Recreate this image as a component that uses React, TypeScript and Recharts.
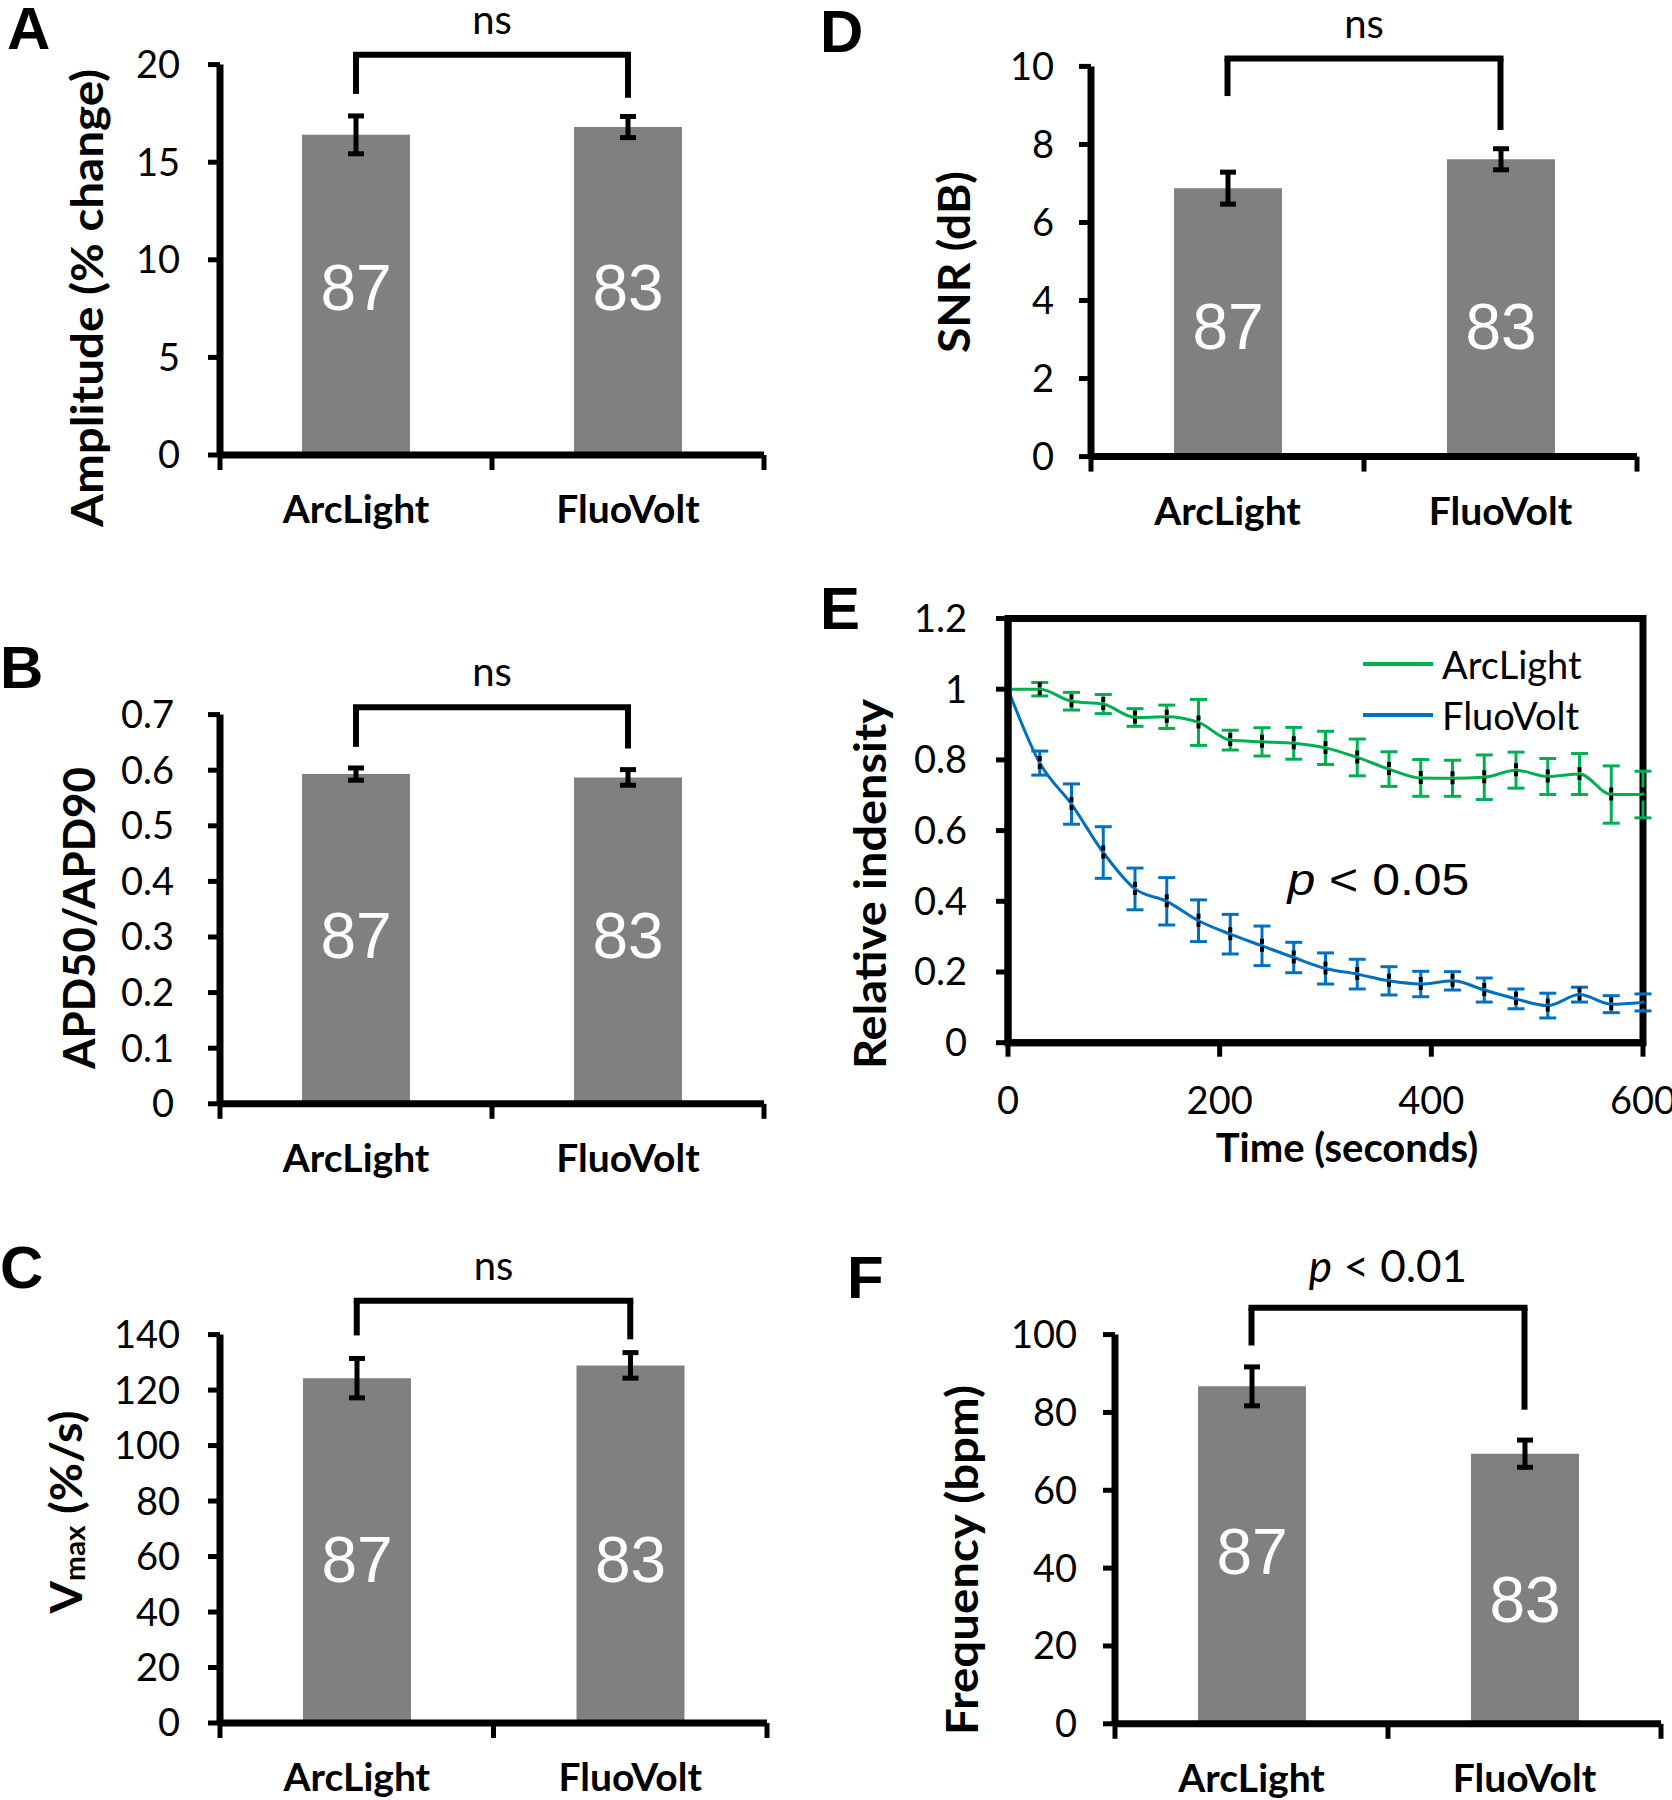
import React from "react";
import {
  Bar,
  BarChart,
  ErrorBar,
  LabelList,
  Legend,
  Line,
  LineChart,
  ReferenceArea,
  ReferenceDot,
  ReferenceLine,
  XAxis,
  YAxis,
} from "recharts";

const FONT = "Lato, 'Open Sans', sans-serif";
const ARIAL = "'Liberation Sans', Arial, sans-serif";
const GREEN = "#00B050";
const BLUE = "#0070C0";

const groups = ["ArcLight", "FluoVolt"];
const cellCounts = [87, 83];

// A - amplitude
const amplitudeMean = [16.4, 16.8];
const amplitudeSem = [0.97, 0.54];
const amplitudeBracket = [20.5, 18.5, 18.3];
const amplitudeCountAt = [8.6, 8.6];
const amplitudeTicks = [0, 5, 10, 15, 20];

// B - APD50/APD90
const apdMean = [0.593, 0.587];
const apdSem = [0.011, 0.014];
const apdBracket = [0.713, 0.642, 0.639];
const apdCountAt = [0.303, 0.303];
const apdTicks = [0, 0.1, 0.2, 0.3, 0.4, 0.5, 0.6, 0.7];

// C - Vmax
const vmaxMean = [124.3, 128.9];
const vmaxSem = [7.1, 4.6];
const vmaxBracket = [152.2, 139.7, 138.3];
const vmaxCountAt = [59.3, 59.3];
const vmaxTicks = [0, 20, 40, 60, 80, 100, 120, 140];

// D - SNR
const snrMean = [6.88, 7.62];
const snrSem = [0.41, 0.27];
const snrBracket = [10.2, 9.24, 8.37];
const snrCountAt = [3.35, 3.35];
const snrTicks = [0, 2, 4, 6, 8, 10];

// F - beating frequency
const freqMean = [86.7, 69.4];
const freqSem = [5.0, 3.5];
const freqBracket = [106.9, 97.2, 80.7];
const freqCountAt = [44.4, 32.1];
const freqTicks = [0, 20, 40, 60, 80, 100];

// E - relative intensity over time
const timeSec = [0, 30, 60, 90, 120, 150, 180, 210, 240, 270, 300, 330, 360, 390, 420, 450, 480, 510, 540, 570, 600];
const arcMean = [1.0, 1.0, 0.966, 0.958, 0.92, 0.922, 0.906, 0.856, 0.851, 0.847, 0.834, 0.807, 0.774, 0.749, 0.748, 0.751, 0.771, 0.753, 0.76, 0.702, 0.702];
const arcSem = [0, 0.019, 0.025, 0.027, 0.025, 0.033, 0.065, 0.028, 0.04, 0.045, 0.047, 0.052, 0.049, 0.052, 0.051, 0.063, 0.051, 0.051, 0.058, 0.081, 0.066];
const fluoMean = [1.0, 0.791, 0.675, 0.538, 0.435, 0.4, 0.345, 0.307, 0.274, 0.241, 0.21, 0.194, 0.175, 0.166, 0.175, 0.149, 0.124, 0.105, 0.136, 0.109, 0.114];
const fluoSem = [0, 0.034, 0.057, 0.073, 0.059, 0.067, 0.059, 0.056, 0.056, 0.043, 0.044, 0.042, 0.04, 0.036, 0.026, 0.034, 0.028, 0.035, 0.021, 0.024, 0.024];
const timeTicks = [0, 200, 400, 600];
const intensityTicks = [0, 0.2, 0.4, 0.6, 0.8, 1, 1.2];

const panelLetters = [
  { t: "A", x: 7, y: -1 },
  { t: "B", x: 0, y: 638 },
  { t: "C", x: 0, y: 1238 },
  { t: "D", x: 820, y: 2 },
  { t: "E", x: 820, y: 579 },
  { t: "F", x: 847, y: 1248 },
];

const fmt = (v: number) => String(Number(v.toFixed(1)));

const vTitle = (x: number, y: number, len: number, body: React.ReactNode) => () => (
  <text
    transform={`translate(${x},${y}) rotate(-90)`}
    textAnchor="middle"
    dominantBaseline="central"
    fontFamily={FONT}
    fontWeight={700}
    fontSize={44}
    fill="#000"
    textLength={len}
    lengthAdjust="spacingAndGlyphs"
  >
    {body}
  </text>
);

const pNote = (rest: string, size: number, font: string, gap: number, len?: number) => (props: any) => {
  const vb = props.viewBox || { x: 0, y: 0, width: 0 };
  return (
    <text
      x={vb.x + (vb.width || 0) / 2}
      y={vb.y - gap}
      textAnchor="middle"
      fontSize={size}
      fontFamily={font}
      fill="#000"
      textLength={len}
      lengthAdjust={len ? "spacingAndGlyphs" : undefined}
    >
      <tspan fontStyle="italic">p</tspan> &lt; {rest}
    </text>
  );
};

const renderGroupTick = (props: any) => {
  const { x, y, payload } = props;
  const v = payload.value;
  if (Number.isInteger(v)) {
    return <line x1={x} y1={y} x2={x} y2={y + 15} stroke="#000" strokeWidth={5} />;
  }
  return (
    <text x={x} y={y + 53} textAnchor="middle" dominantBaseline="central" fontFamily={FONT} fontWeight={700} fontSize={39} fill="#000">
      {groups[Math.floor(v)]}
    </text>
  );
};

// white cell-count labels, placed at a chosen height inside each bar
const countLabel = (mean: number[], at: number[]) => (props: any) => {
  const { x, y, width, height, index, value } = props;
  const bottom = y + height;
  const cy = bottom - (at[index] * height) / mean[index];
  return (
    <text x={x + width / 2} y={cy} dy="0.36em" textAnchor="middle" fill="#fff" fontSize={64} fontFamily={ARIAL}>
      {value}
    </text>
  );
};

function BarPanel(props: any) {
  const { frame, plot, mean, sem, countAt, ticks, bracket, note, title, tickGap } = props;
  const [L, T, W, H] = frame;
  const [px, py, pw, ph] = plot;
  const axisH = 76;
  const data = groups.map((name, i) => ({ pos: i + 0.5, name, mean: mean[i], sem: sem[i], n: cellCounts[i] }));
  const margin = { top: py - T, left: 0, right: L + W - px - pw, bottom: Math.max(0, T + H - py - ph - axisH) };
  const [top, legL, legR] = bracket;
  return (
    <div style={{ position: "absolute", left: L, top: T }}>
      <BarChart width={W} height={H} data={data} margin={margin}>
        <XAxis
          dataKey="pos"
          type="number"
          domain={[0, 2]}
          ticks={[0, 0.5, 1, 1.5, 2]}
          interval={0}
          height={axisH}
          tickSize={0}
          tickMargin={0}
          tickLine={false}
          axisLine={{ stroke: "#000", strokeWidth: 7 }}
          tick={renderGroupTick}
        />
        <YAxis
          type="number"
          domain={[0, ticks[ticks.length - 1]]}
          ticks={ticks}
          interval={0}
          width={px - L}
          tickSize={12}
          tickMargin={tickGap}
          tickLine={{ stroke: "#000", strokeWidth: 5 }}
          axisLine={{ stroke: "#000", strokeWidth: 7 }}
          tick={{ fill: "#000", fontSize: 38, fontFamily: FONT }}
          tickFormatter={fmt}
          label={{ content: vTitle(title.x - L, title.y - T, title.len, title.body) }}
        />
        <Bar dataKey="mean" fill="#808080" barSize={108} isAnimationActive={false}>
          <ErrorBar dataKey="sem" width={8} strokeWidth={5} stroke="#000" direction="y" />
          <LabelList dataKey="n" content={countLabel(mean, countAt)} />
        </Bar>
        <ReferenceLine
          segment={[{ x: 0.5, y: top }, { x: 1.5, y: top }]}
          stroke="#000"
          strokeWidth={6}
          strokeLinecap="square"
          ifOverflow="visible"
          label={note}
        />
        <ReferenceLine segment={[{ x: 0.5, y: top }, { x: 0.5, y: legL }]} stroke="#000" strokeWidth={6} ifOverflow="visible" />
        <ReferenceLine segment={[{ x: 1.5, y: top }, { x: 1.5, y: legR }]} stroke="#000" strokeWidth={6} ifOverflow="visible" />
      </BarChart>
    </div>
  );
}

const nsNote = { value: "ns", position: "top", offset: 21, fill: "#000", fontSize: 40, fontFamily: FONT };

const renderBleachDot = (props: any) => {
  const { cx, cy, index } = props;
  if (index === 0) return <g key={`d${index}`} />;
  return (
    <line key={`d${index}`} x1={cx} y1={cy - 7} x2={cx} y2={cy + 7} stroke="#000" strokeWidth={4} strokeDasharray="5 3" />
  );
};

const renderLegend = (props: any) => (
  <div>
    {(props.payload || []).map((e: any) => (
      <div key={e.value} style={{ display: "flex", alignItems: "center", height: 51 }}>
        <div style={{ width: 70, borderTop: `4px solid ${e.color}` }} />
        <span style={{ marginLeft: 9, fontFamily: FONT, fontSize: 38, color: "#000", lineHeight: 1 }}>{e.value}</span>
      </div>
    ))}
  </div>
);

function BleachPanel() {
  const L = 836;
  const T = 580;
  const W = 836;
  const H = 620;
  const data = timeSec.map((t, i) => ({ t, arc: arcMean[i], arcErr: arcSem[i], fluo: fluoMean[i], fluoErr: fluoSem[i] }));
  const margin = { top: 618.5 - T, left: 0, right: L + W - 1643, bottom: T + H - 1042.7 - 130 };
  return (
    <div style={{ position: "absolute", left: L, top: T }}>
      <LineChart width={W} height={H} data={data} margin={margin}>
        <XAxis
          dataKey="t"
          type="number"
          domain={[0, 600]}
          ticks={timeTicks}
          interval={0}
          height={130}
          tickSize={14}
          tickMargin={30}
          tickLine={{ stroke: "#000", strokeWidth: 5 }}
          axisLine={{ stroke: "#000", strokeWidth: 7 }}
          tick={{ fill: "#000", fontSize: 38, fontFamily: FONT }}
          label={{
            content: () => (
              <text x={1347 - L} y={1147 - T} textAnchor="middle" dominantBaseline="central" fontFamily={FONT} fontWeight={700} fontSize={40} fill="#000">
                Time (seconds)
              </text>
            ),
          }}
        />
        <YAxis
          type="number"
          domain={[0, 1.2]}
          ticks={intensityTicks}
          interval={0}
          width={1008 - L}
          tickSize={12}
          tickMargin={29}
          tickLine={{ stroke: "#000", strokeWidth: 5 }}
          axisLine={{ stroke: "#000", strokeWidth: 7 }}
          tick={{ fill: "#000", fontSize: 38, fontFamily: FONT }}
          tickFormatter={fmt}
          label={{ content: vTitle(869 - L, 884 - T, 370, "Relative indensity") }}
        />
        <ReferenceArea x1={0} x2={600} y1={0} y2={1.2} fill="none" stroke="#000" strokeWidth={7} ifOverflow="visible" />
        <Legend
          layout="vertical"
          align="center"
          verticalAlign="middle"
          wrapperStyle={{ left: 527, top: 58, width: 260 }}
          content={renderLegend}
        />
        <Line dataKey="arc" name="ArcLight" type="monotone" stroke={GREEN} strokeWidth={3} dot={renderBleachDot} activeDot={false} isAnimationActive={false}>
          <ErrorBar dataKey="arcErr" width={8.5} strokeWidth={3} stroke={GREEN} direction="y" />
        </Line>
        <Line dataKey="fluo" name="FluoVolt" type="monotone" stroke={BLUE} strokeWidth={3} dot={renderBleachDot} activeDot={false} isAnimationActive={false}>
          <ErrorBar dataKey="fluoErr" width={8.5} strokeWidth={3} stroke={BLUE} direction="y" />
        </Line>
        <ReferenceDot x={350} y={0.418} r={0} fill="none" stroke="none" ifOverflow="visible" label={{ content: pNote("0.05", 44, ARIAL, 0, 182) }} />
      </LineChart>
    </div>
  );
}

export default function App() {
  return (
    <div style={{ position: "absolute", left: 0, top: 0, width: 1672, height: 1800, background: "#fff", overflow: "hidden" }}>
      <BarPanel
        frame={[0, 0, 836, 560]}
        plot={[220, 64.6, 544, 390.4]}
        mean={amplitudeMean}
        sem={amplitudeSem}
        countAt={amplitudeCountAt}
        ticks={amplitudeTicks}
        bracket={amplitudeBracket}
        note={nsNote}
        tickGap={28}
        title={{ x: 86, y: 298, len: 458, body: "Amplitude (% change)" }}
      />
      <BarPanel
        frame={[0, 600, 836, 600]}
        plot={[220, 714.6, 544, 389.2]}
        mean={apdMean}
        sem={apdSem}
        countAt={apdCountAt}
        ticks={apdTicks}
        bracket={apdBracket}
        note={nsNote}
        tickGap={34}
        title={{ x: 78, y: 918, len: 302, body: "APD50/APD90" }}
      />
      <BarPanel
        frame={[0, 1200, 836, 600]}
        plot={[220, 1334.6, 547, 388.4]}
        mean={vmaxMean}
        sem={vmaxSem}
        countAt={vmaxCountAt}
        ticks={vmaxTicks}
        bracket={vmaxBracket}
        note={nsNote}
        tickGap={28}
        title={{
          x: 65,
          y: 1512,
          len: 203,
          body: (
            <>
              <tspan>V</tspan>
              <tspan dy={9} fontSize={28}>max</tspan>
              <tspan dy={-9}> (%/s)</tspan>
            </>
          ),
        }}
      />
      <BarPanel
        frame={[836, 0, 836, 560]}
        plot={[1091, 66.4, 546, 390.2]}
        mean={snrMean}
        sem={snrSem}
        countAt={snrCountAt}
        ticks={snrTicks}
        bracket={snrBracket}
        note={nsNote}
        tickGap={25}
        title={{ x: 953, y: 262, len: 182, body: "SNR (dB)" }}
      />
      <BleachPanel />
      <BarPanel
        frame={[836, 1200, 836, 600]}
        plot={[1115, 1334.6, 546, 389.2]}
        mean={freqMean}
        sem={freqSem}
        countAt={freqCountAt}
        ticks={freqTicks}
        bracket={freqBracket}
        note={{ position: "top", content: pNote("0.01", 44, FONT, 26) }}
        tickGap={26}
        title={{ x: 961, y: 1560, len: 350, body: "Frequency (bpm)" }}
      />
      {panelLetters.map((p) => (
        <div
          key={p.t}
          style={{ position: "absolute", left: p.x, top: p.y, fontFamily: ARIAL, fontWeight: 700, fontSize: 60, lineHeight: 1, color: "#000" }}
        >
          {p.t}
        </div>
      ))}
    </div>
  );
}
